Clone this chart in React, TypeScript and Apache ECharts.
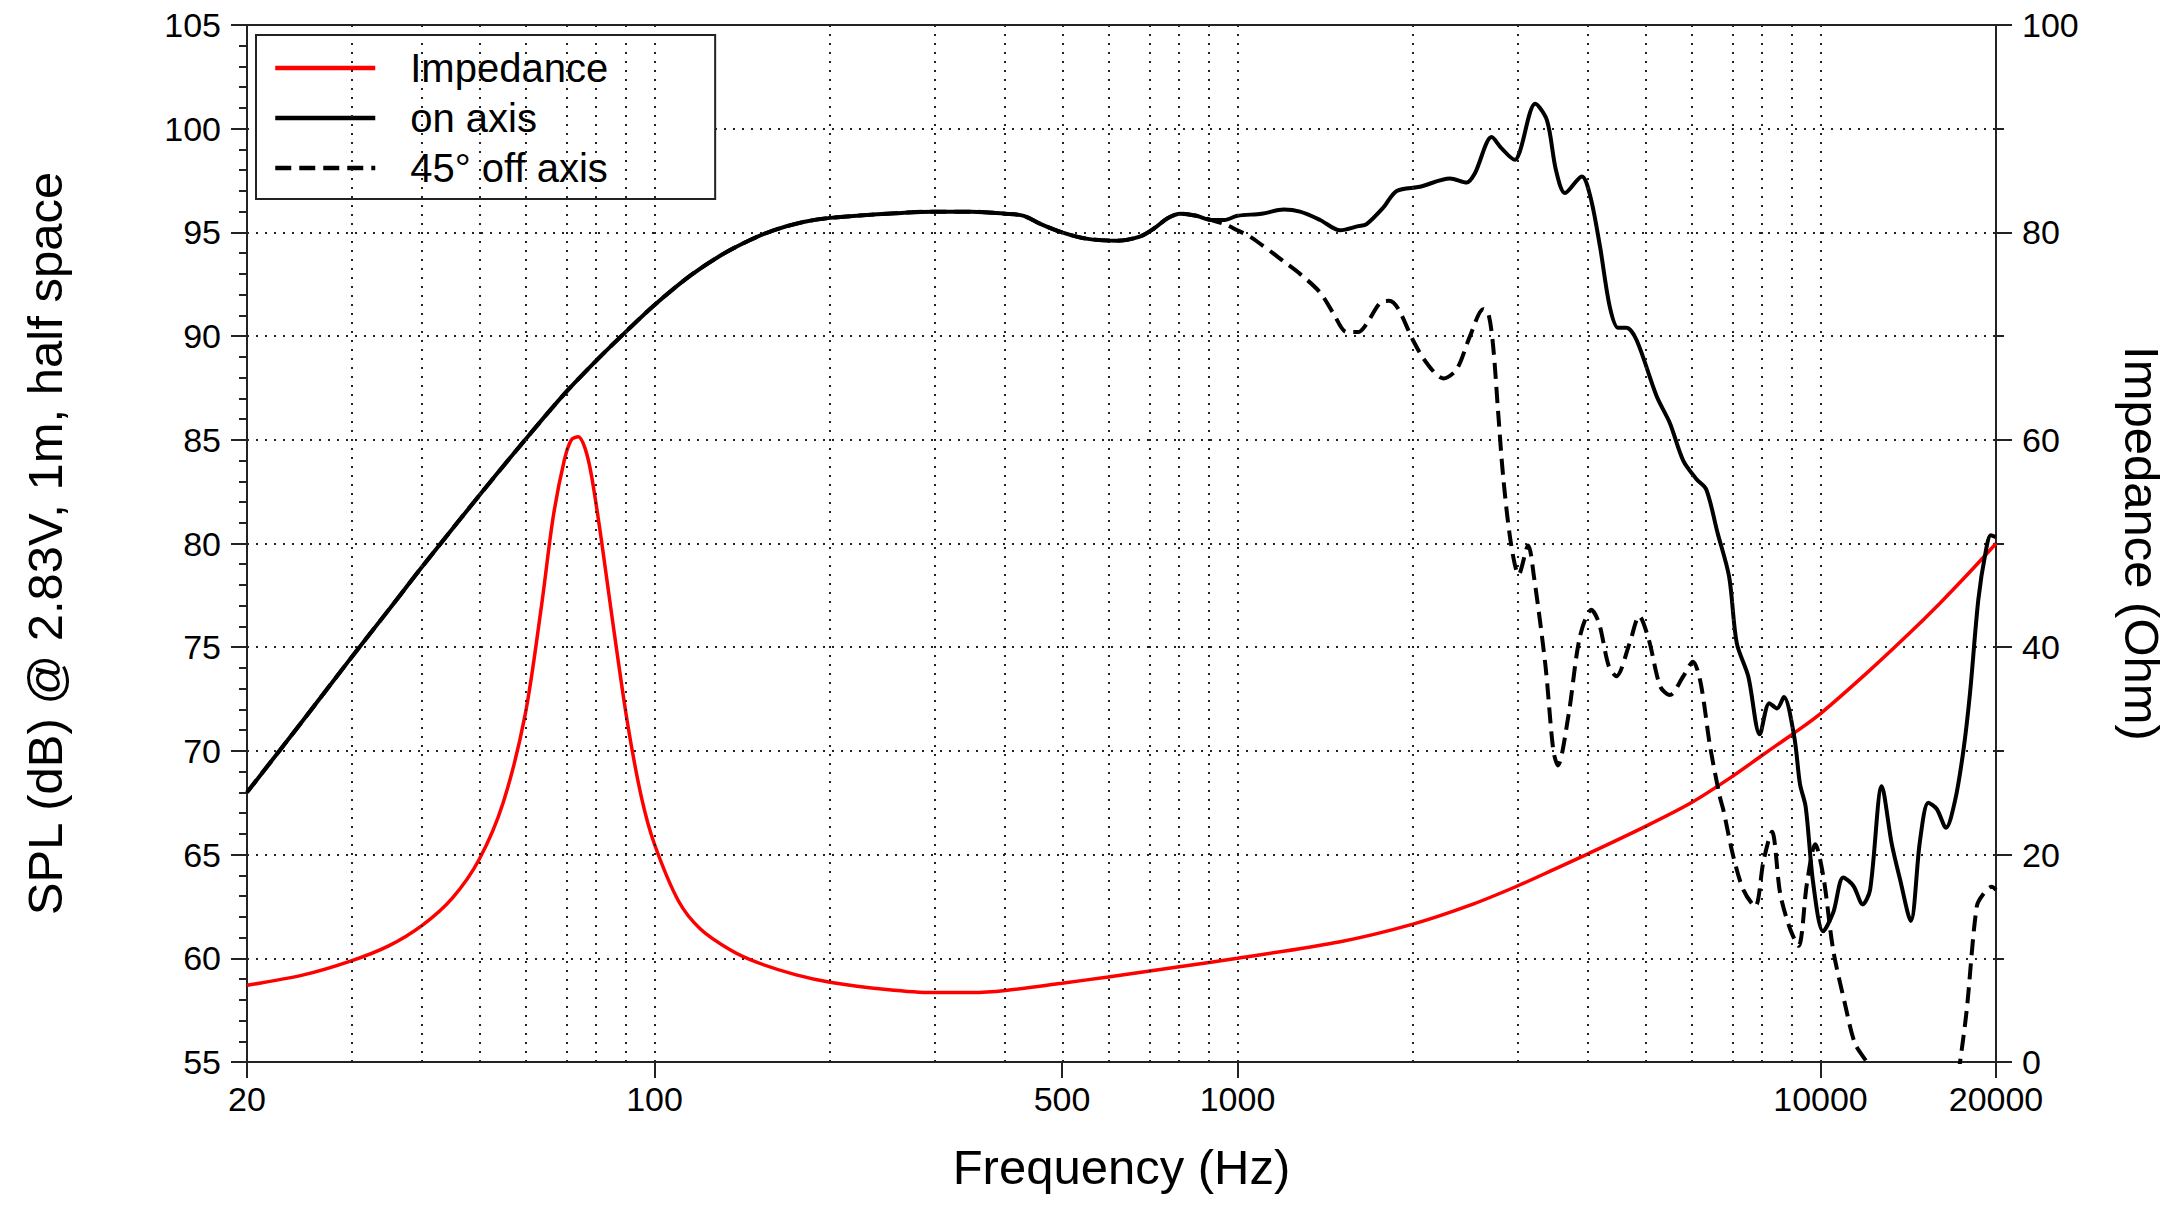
import React, { useEffect, useRef } from "react";
import * as echarts from "echarts";

// ---- Data ----
const impedanceFreq = [20, 25, 30, 35, 40, 45, 50, 55, 60, 64, 67, 70, 72, 74, 76, 78, 81, 85, 90, 95, 100, 110, 120, 135, 150, 175, 200, 250, 300, 350, 400, 500, 600, 800, 1000, 1500, 2000, 2500, 3000, 3500, 4000, 5000, 6000, 7000, 8000, 9000, 10000, 12000, 14000, 16000, 18000, 20000];
const impedanceOhm = [7.4, 8.4, 9.7, 11.2, 13.2, 15.8, 19.5, 25, 33.5, 44, 52.5, 58, 60, 60.3, 59.2, 56.5, 50.5, 42, 32.5, 25.5, 21, 15.5, 12.8, 10.8, 9.6, 8.4, 7.7, 7.0, 6.7, 6.7, 6.9, 7.6, 8.2, 9.2, 10.0, 11.6, 13.3, 15.1, 16.9, 18.6, 20.1, 22.7, 25.0, 27.4, 29.7, 31.7, 33.6, 37.5, 41.0, 44.2, 47.2, 50.0];

const onAxisFreq = [20, 25, 30, 35, 40, 50, 60, 70, 80, 90, 100, 115, 130, 145, 160, 180, 200, 250, 300, 350, 400, 430, 460, 500, 550, 620, 680, 720, 760, 800, 850, 900, 950, 1000, 1100, 1200, 1280, 1386, 1500, 1612, 1665, 1779, 1875, 2056, 2315, 2472, 2554, 2729, 2838, 2993, 3050, 3242, 3395, 3518, 3646, 3896, 4032, 4187, 4352, 4498, 4646, 4838, 5236, 5517, 5815, 6130, 6369, 6661, 6970, 7184, 7517, 7866, 8170, 8422, 8655, 9013, 9222, 9432, 9718, 10104, 10514, 10941, 11384, 11816, 12163, 12737, 13252, 13693, 14283, 14818, 15312, 15825, 16418, 17012, 17580, 18050, 18653, 19200, 19600, 20000];
const onAxisSpl = [68.0, 71.5, 74.4, 76.8, 78.9, 82.3, 85.0, 87.2, 88.9, 90.3, 91.5, 92.9, 93.9, 94.6, 95.1, 95.5, 95.7, 95.9, 96.0, 96.0, 95.9, 95.8, 95.4, 95.0, 94.7, 94.6, 94.8, 95.2, 95.7, 95.9, 95.8, 95.6, 95.6, 95.8, 95.9, 96.1, 96.0, 95.6, 95.1, 95.3, 95.4, 96.2, 97.0, 97.2, 97.6, 97.4, 97.85, 99.6, 99.05, 98.5, 98.9, 101.2, 100.4, 98.0, 96.9, 97.7, 96.7, 94.3, 91.4, 90.4, 90.4, 89.8, 87.1, 85.8, 84.0, 83.1, 82.6, 80.5, 78.4, 75.2, 73.6, 70.8, 72.3, 72.05, 72.6, 70.7, 68.4, 67.3, 63.6, 61.3, 62.2, 63.9, 63.5, 62.6, 63.3, 68.3, 65.5, 63.8, 61.8, 65.7, 67.5, 67.2, 66.3, 67.6, 70.0, 72.8, 77.3, 79.6, 80.4, 80.3];

const offAxisFreq = [20, 25, 30, 35, 40, 50, 60, 70, 80, 90, 100, 115, 130, 145, 160, 180, 200, 250, 300, 350, 400, 430, 460, 500, 550, 620, 680, 720, 760, 800, 850, 900, 950, 1000, 1050, 1100, 1150, 1200, 1280, 1386, 1460, 1539, 1612, 1666, 1756, 1820, 1888, 2000, 2111, 2255, 2377, 2505, 2640, 2693, 2745, 2800, 2856, 2945, 3036, 3152, 3225, 3375, 3480, 3543, 3695, 3866, 4047, 4171, 4332, 4465, 4706, 4887, 5077, 5311, 5517, 5817, 6042, 6227, 6467, 6718, 6814, 7088, 7375, 7725, 7985, 8255, 8531, 8873, 9169, 9478, 9796, 10119, 10514, 11015, 11455, 12002, 12300, 14000, 17200, 17353, 17815, 18535, 19027, 19671, 20000];
const offAxisSpl = [68.0, 71.5, 74.4, 76.8, 78.9, 82.3, 85.0, 87.2, 88.9, 90.3, 91.5, 92.9, 93.9, 94.6, 95.1, 95.5, 95.7, 95.9, 96.0, 96.0, 95.9, 95.8, 95.4, 95.0, 94.7, 94.6, 94.8, 95.2, 95.7, 95.9, 95.8, 95.6, 95.4, 95.1, 94.8, 94.4, 94.0, 93.6, 93.0, 92.1, 91.1, 90.2, 90.2, 90.6, 91.6, 91.7, 91.3, 89.8, 88.7, 87.96, 88.4, 90.0, 91.3, 91.1, 89.5, 86.3, 83.2, 80.0, 78.5, 79.9, 78.4, 74.1, 70.05, 69.3, 71.7, 75.5, 76.8, 76.15, 74.1, 73.6, 75.2, 76.5, 75.35, 73.1, 72.7, 73.6, 74.3, 73.3, 70.2, 67.8, 67.15, 64.9, 63.3, 62.5, 64.7, 66.1, 63.1, 61.4, 60.6, 63.6, 65.5, 63.9, 60.4, 57.8, 55.9, 55.0, 54.4, null, 54.4, 55.0, 57.5, 62.5, 63.1, 63.45, 63.3];

const xLabelFreqs = [20, 100, 500, 1000, 10000, 20000];
const xGridFreqs = [30, 40, 50, 60, 70, 80, 90, 100, 200, 300, 400, 500, 600, 700, 800, 900, 1000, 2000, 3000, 4000, 5000, 6000, 7000, 8000, 9000, 10000];

const FONT = "'Liberation Sans', Arial, Helvetica, sans-serif";
const AXIS_COLOR = "#222";
const GRID_DOT = { color: "#222", width: 2, type: [2, 7] as number[] };

const toPairs = (f: number[], v: (number | null)[]) =>
  f.map((x, i) => [Math.log10(x), v[i] === null ? null : v[i]]);

export default function App() {
  const ref = useRef<HTMLDivElement>(null);

  useEffect(() => {
    if (!ref.current) return;
    const chart = echarts.init(ref.current, null, { renderer: "svg" });
    const xMin = Math.log10(20);
    const xMax = Math.log10(20000);

    const option: any = {
      animation: false,
      backgroundColor: "#fff",
      textStyle: { fontFamily: FONT },
      grid: {
        left: 247,
        right: 184,
        top: 25,
        bottom: 146,
        show: true,
        borderColor: AXIS_COLOR,
        borderWidth: 2,
        backgroundColor: "transparent",
      },
      legend: {
        left: 256,
        top: 35,
        orient: "vertical",
        itemWidth: 100,
        itemHeight: 40,
        itemGap: 10,
        padding: [13, 107, 11, 17],
        backgroundColor: "#fff",
        borderColor: AXIS_COLOR,
        borderWidth: 2,
        borderRadius: 0,
        itemStyle: { opacity: 0, borderWidth: 0 },
        lineStyle: { width: 4.5 },
        textStyle: {
          fontFamily: FONT,
          fontSize: 40,
          color: "#000",
          lineHeight: 40,
          padding: [0, 0, 0, 30],
        },
        data: ["Impedance", "on axis", "45° off axis"],
      },
      xAxis: {
        type: "value",
        min: xMin,
        max: xMax,
        name: "Frequency (Hz)",
        nameLocation: "middle",
        nameGap: 80,
        nameTextStyle: { fontFamily: FONT, fontSize: 49, color: "#000" },
        axisLine: { show: true, onZero: false, lineStyle: { color: AXIS_COLOR, width: 2 } },
        axisTick: {
          show: true,
          inside: false,
          length: 16,
          lineStyle: { color: AXIS_COLOR, width: 2 },
          customValues: xLabelFreqs.map((f) => Math.log10(f)),
        },
        axisLabel: {
          show: true,
          margin: 20,
          fontFamily: FONT,
          fontSize: 34,
          color: "#000",
          customValues: xLabelFreqs.map((f) => Math.log10(f)),
          formatter: (v: number) => String(Math.round(Math.pow(10, v))),
        },
        splitLine: { show: false },
      },
      yAxis: [
        {
          type: "value",
          min: 55,
          max: 105,
          interval: 5,
          name: "SPL (dB) @ 2.83V, 1m, half space",
          nameLocation: "middle",
          nameGap: 178,
          nameTextStyle: { fontFamily: FONT, fontSize: 49, color: "#000" },
          axisLine: { show: true, lineStyle: { color: AXIS_COLOR, width: 2 } },
          axisTick: { show: true, inside: false, length: 16, lineStyle: { color: AXIS_COLOR, width: 2 } },
          minorTick: { show: true, splitNumber: 5, length: 8, lineStyle: { color: AXIS_COLOR, width: 2 } },
          axisLabel: { margin: 26, fontFamily: FONT, fontSize: 34, color: "#000" },
          splitLine: { show: true, lineStyle: GRID_DOT },
        },
        {
          type: "value",
          min: 0,
          max: 100,
          interval: 20,
          position: "right",
          name: "Impedance (Ohm)",
          nameLocation: "middle",
          nameRotate: -90,
          nameGap: 121,
          nameTextStyle: { fontFamily: FONT, fontSize: 49, color: "#000" },
          axisLine: { show: true, lineStyle: { color: AXIS_COLOR, width: 2 } },
          axisTick: { show: true, inside: false, length: 16, lineStyle: { color: AXIS_COLOR, width: 2 } },
          minorTick: { show: true, splitNumber: 2, length: 8, lineStyle: { color: AXIS_COLOR, width: 2 } },
          axisLabel: { margin: 26, fontFamily: FONT, fontSize: 34, color: "#000" },
          splitLine: { show: false },
        },
      ],
      series: [
        {
          name: "grid",
          type: "line",
          data: [],
          z: 1,
          silent: true,
          markLine: {
            silent: true,
            symbol: ["none", "none"],
            label: { show: false },
            lineStyle: GRID_DOT,
            emphasis: { disabled: true },
            data: xGridFreqs.map((f) => ({ xAxis: Math.log10(f) })),
          },
        },
        {
          name: "Impedance",
          type: "line",
          yAxisIndex: 1,
          symbol: "none",
          smooth: 0.3,
          z: 3,
          lineStyle: { color: "#ff0000", width: 3.5 },
          itemStyle: { color: "#ff0000" },
          data: toPairs(impedanceFreq, impedanceOhm),
        },
        {
          name: "on axis",
          type: "line",
          yAxisIndex: 0,
          symbol: "none",
          smooth: 0.3,
          z: 4,
          lineStyle: { color: "#000", width: 4 },
          itemStyle: { color: "#000" },
          data: toPairs(onAxisFreq, onAxisSpl),
        },
        {
          name: "45° off axis",
          type: "line",
          yAxisIndex: 0,
          symbol: "none",
          smooth: 0.3,
          z: 5,
          clip: true,
          connectNulls: false,
          lineStyle: { color: "#000", width: 4, type: [16, 8] },
          itemStyle: { color: "#000" },
          data: toPairs(offAxisFreq, offAxisSpl),
        },
      ],
    };

    chart.setOption(option);
    return () => chart.dispose();
  }, []);

  return (
    <div
      ref={ref}
      style={{ position: "fixed", left: 0, top: 0, width: 2180, height: 1208, background: "#fff" }}
    />
  );
}
